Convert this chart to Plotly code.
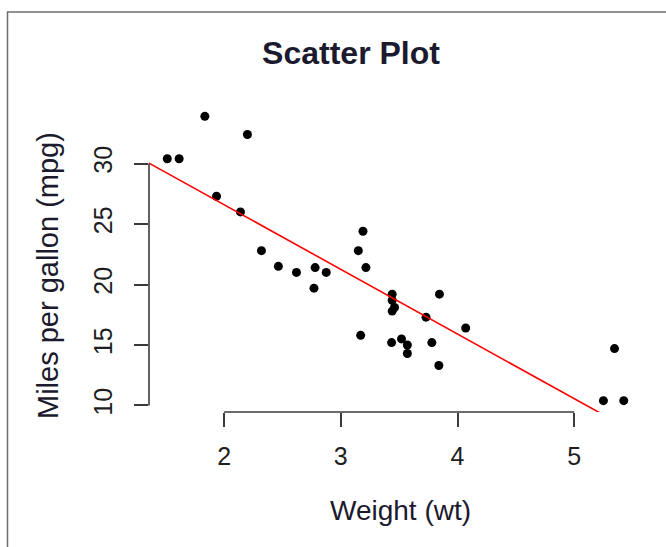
import numpy as np
import plotly.graph_objects as go

# mtcars: weight (1000 lbs) and miles per gallon
wt = [2.620, 2.875, 2.320, 3.215, 3.440, 3.460, 3.570, 3.190, 3.150, 3.440, 3.440,
      4.070, 3.730, 3.780, 5.250, 5.424, 5.345, 2.200, 1.615, 1.835, 2.465, 3.520,
      3.435, 3.840, 3.845, 1.935, 2.140, 1.513, 3.170, 2.770, 3.570, 2.780]
mpg = [21.0, 21.0, 22.8, 21.4, 18.7, 18.1, 14.3, 24.4, 22.8, 19.2, 17.8,
       16.4, 17.3, 15.2, 10.4, 10.4, 14.7, 32.4, 30.4, 33.9, 21.5, 15.5,
       15.2, 13.3, 19.2, 27.3, 26.0, 30.4, 15.8, 19.7, 15.0, 21.4]
x_ticks = [2, 3, 4, 5]
y_ticks = [10, 15, 20, 25, 30]

W, H = 666, 547
ML, MR, MT, MB = 149, 24, 105, 135
PW, PH = W - ML - MR, H - MT - MB

def px_x(p):
    return (p - ML) / PW

def px_y(p):
    return (H - MB - p) / PH

def r_range(v):
    lo, hi = min(v), max(v)
    d = 0.04 * (hi - lo)
    return [lo - d, hi + d]

xr = r_range(wt)
yr = r_range(mpg)

slope, intercept = np.polyfit(wt, mpg, 1)
line_x = np.array(xr)
line_y = intercept + slope * line_x

TXT = "#1b1a2e"
AX = "#3a3a3a"
FONT = "Liberation Sans, Arial, sans-serif"

fig = go.Figure()
fig.add_trace(go.Scatter(x=wt, y=mpg, mode="markers",
                         marker=dict(color="black", size=9), showlegend=False,
                         hoverinfo="x+y"))
fig.add_trace(go.Scatter(x=line_x, y=line_y, mode="lines",
                         line=dict(color="red", width=1.6), showlegend=False,
                         hoverinfo="skip"))

axis_common = dict(showgrid=False, zeroline=False, showline=False,
                   ticks="outside", ticklen=14, tickwidth=1.6, tickcolor=AX,
                   tickfont=dict(size=25, color="#1e1e1e", family=FONT))

fig.update_layout(
    width=W, height=H,
    margin=dict(l=ML, r=MR, t=MT, b=MB, pad=0),
    paper_bgcolor="white", plot_bgcolor="white",
    font=dict(family=FONT),
    title=dict(text="<b>Scatter Plot</b>", x=351 / W, xanchor="center",
               y=1 - 53 / H, yanchor="middle", xref="container", yref="container",
               font=dict(size=32, color=TXT, family=FONT)),
    xaxis=dict(range=xr, tickvals=x_ticks, ticklabelstandoff=8, **axis_common),
    yaxis=dict(range=yr, tickvals=y_ticks, tickangle=-90, ticklabelstandoff=12,
               **axis_common),
    annotations=[
        dict(text="Weight (wt)", x=px_x(400), y=px_y(510), xref="paper", yref="paper",
             xanchor="center", yanchor="middle", showarrow=False,
             font=dict(size=28, color=TXT, family=FONT)),
        dict(text="Miles per gallon (mpg)", x=px_x(48), y=px_y(276), xref="paper",
             yref="paper", xanchor="center", yanchor="middle", textangle=-90,
             showarrow=False, font=dict(size=29, color=TXT, family=FONT)),
    ],
    shapes=[
        dict(type="line", xref="x", yref="paper", x0=x_ticks[0], x1=x_ticks[-1],
             y0=0, y1=0, line=dict(color=AX, width=1.6)),
        dict(type="line", xref="paper", yref="y", x0=0, x1=0,
             y0=y_ticks[0], y1=y_ticks[-1], line=dict(color=AX, width=1.6)),
        dict(type="line", xref="paper", yref="paper", x0=px_x(7.5), x1=px_x(7.5),
             y0=px_y(12), y1=px_y(H + 2), line=dict(color="#6e6e6e", width=1.5)),
        dict(type="line", xref="paper", yref="paper", x0=px_x(7), x1=px_x(W + 2),
             y0=px_y(12), y1=px_y(12), line=dict(color="#6e6e6e", width=1.5)),
    ],
)

fig.write_html("out.html")
